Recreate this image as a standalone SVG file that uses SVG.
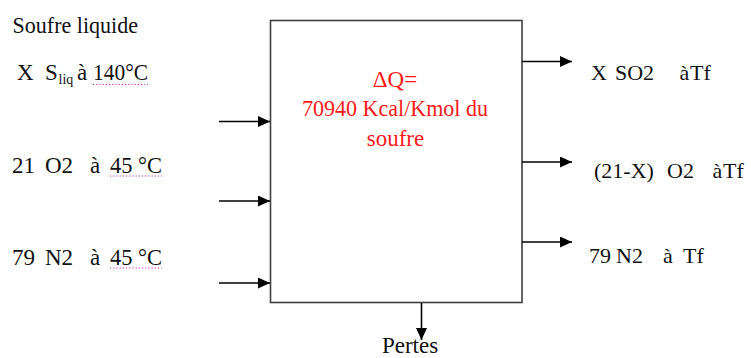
<svg xmlns="http://www.w3.org/2000/svg" width="751" height="358" viewBox="0 0 751 358" font-family="'Liberation Serif', 'DejaVu Serif', serif">
<style>
text{font-family:'Liberation Serif','DejaVu Serif',serif;font-size:23px;fill:#111;}
.out{font-size:22px;}
.red{fill:#ff1a1a;text-anchor:middle;}
.sub{font-size:14px;}
.conn{stroke:#000;stroke-width:1.6;fill:none;marker-end:url(#ah);}
.dot{stroke:#cc33cc;stroke-width:1.2;stroke-dasharray:1.2 2;fill:none;}
</style>
<defs>
<marker id="ah" markerUnits="userSpaceOnUse" markerWidth="13" markerHeight="11" refX="12" refY="5.5" orient="auto">
<path d="M0,0 L12,5.5 L0,11 Z" fill="#000"/>
</marker>
</defs>
<g id="reactor">
<rect x="270.5" y="20.5" width="251.5" height="282" fill="#fff" stroke="#404040" stroke-width="1.6"/>
<text class="red" x="395" y="87">ΔQ=</text>
<text class="red" x="395" y="116" textLength="186" lengthAdjust="spacingAndGlyphs">70940 Kcal/Kmol du</text>
<text class="red" x="395.5" y="146">soufre</text>
</g>
<g id="input-sulfur">
<text x="12.5" y="33" textLength="125.5" lengthAdjust="spacingAndGlyphs">Soufre liquide</text>
<text x="17" y="80">X</text>
<text x="45" y="80">S</text>
<text class="sub" x="58.5" y="84">liq</text>
<text x="77" y="80">à</text>
<text x="93" y="80" textLength="55" lengthAdjust="spacingAndGlyphs">140°C</text>
<line class="dot" x1="93" y1="84.5" x2="148" y2="84.5"/>
</g>
<g id="input-o2">
<text y="173"><tspan x="12">21</tspan><tspan x="45">O2</tspan><tspan x="90">à</tspan></text>
<text x="110" y="173" textLength="52" lengthAdjust="spacingAndGlyphs">45 °C</text>
<line class="dot" x1="110" y1="176" x2="162" y2="176"/>
</g>
<g id="input-n2">
<text y="265"><tspan x="12">79</tspan><tspan x="45">N2</tspan><tspan x="90">à</tspan></text>
<text x="110" y="265" textLength="52" lengthAdjust="spacingAndGlyphs">45 °C</text>
<line class="dot" x1="110" y1="268" x2="162" y2="268"/>
</g>
<g id="output-so2">
<text class="out" y="80"><tspan x="591">X</tspan><tspan x="615">SO2</tspan><tspan x="679.5">à</tspan><tspan x="690">Tf</tspan></text>
</g>
<g id="output-o2">
<text class="out" y="178"><tspan x="594">(21-X)</tspan><tspan x="667">O2</tspan><tspan x="712.5">à</tspan><tspan x="723">Tf</tspan></text>
</g>
<g id="output-n2">
<text class="out" y="263"><tspan x="589">79</tspan><tspan x="616">N2</tspan><tspan x="663">à</tspan><tspan x="683">Tf</tspan></text>
</g>
<g id="losses">
<text x="410" y="353" text-anchor="middle">Pertes</text>
</g>
<g id="connectors">
<line class="conn" x1="219" y1="121.5" x2="270" y2="121.5"/>
<line class="conn" x1="219" y1="201" x2="270" y2="201"/>
<line class="conn" x1="219" y1="283" x2="270" y2="283"/>
<line class="conn" x1="522" y1="61.5" x2="572" y2="61.5"/>
<line class="conn" x1="522" y1="162" x2="572" y2="162"/>
<line class="conn" x1="522" y1="242" x2="572" y2="242"/>
<line class="conn" x1="421.5" y1="303" x2="421.5" y2="340"/>
</g>
</svg>
